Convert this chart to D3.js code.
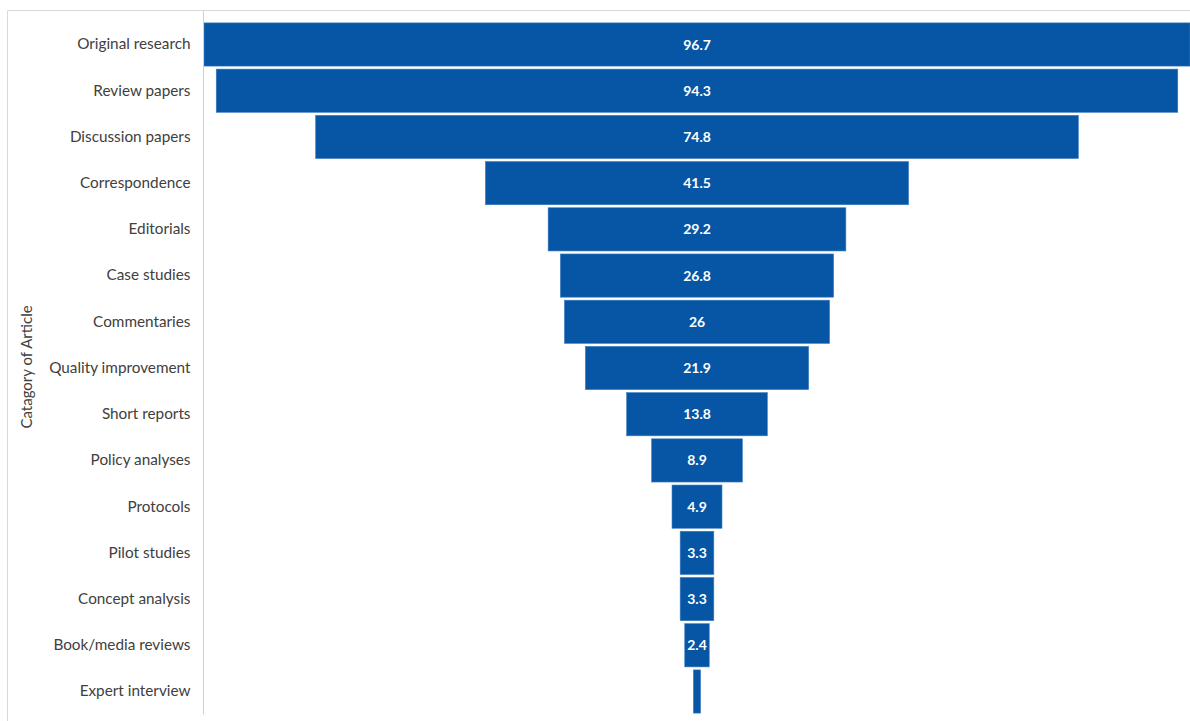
<!DOCTYPE html>
<html><head><meta charset="utf-8">
<script src="https://cdn.jsdelivr.net/npm/d3@7"></script>
<style>body{margin:0;background:#fff;}svg{display:block;}</style>
</head><body>
<svg id="c" width="1190" height="721"></svg>
<script>
const categories = ["Original research","Review papers","Discussion papers","Correspondence","Editorials","Case studies","Commentaries","Quality improvement","Short reports","Policy analyses","Protocols","Pilot studies","Concept analysis","Book/media reviews","Expert interview"];
const values = [96.7,94.3,74.8,41.5,29.2,26.8,26,21.9,13.8,8.9,4.9,3.3,3.3,2.4,0.7];
const labels = ["96.7","94.3","74.8","41.5","29.2","26.8","26","21.9","13.8","8.9","4.9","3.3","3.3","2.4",""];
const axisTitle = "Catagory of Article";

(function(){
const svg = d3.select("#c");
const W = 1190, H = 721;
const pL = 204, pR = 1190, pT = 21.5, pB = 714.5;
const cx = (pL + pR) / 2;

svg.append("path").attr("d", `M7.5,${H} V10.5 H${W}`).attr("fill","none").attr("stroke","#d9d9d9").attr("stroke-width",1);

const y = d3.scaleBand().domain(categories).range([pT, pB]).paddingInner(0.065).paddingOuter(0.03);
const w = d3.scaleLinear().domain([0, d3.max(values)]).range([0, pR - pL]);

const data = categories.map((c,i)=>({c, v: values[i], l: labels[i]}));

svg.selectAll("rect.bar").data(data).join("rect").attr("class","bar")
  .attr("x", d => cx - w(d.v)/2).attr("width", d => w(d.v))
  .attr("y", d => y(d.c)).attr("height", y.bandwidth())
  .attr("fill", "#0756a5").attr("stroke","#3d7cc0").attr("stroke-width",0.6);

svg.selectAll("text.val").data(data).join("text").attr("class","val")
  .attr("x", cx).attr("y", d => y(d.c) + y.bandwidth()/2)
  .attr("dy","0.36em").attr("text-anchor","middle")
  .attr("fill","#fff").attr("font-family","Lato, 'Open Sans', sans-serif")
  .attr("font-size","14px").attr("font-weight","bold").text(d => d.l);

const ax = svg.append("g").attr("transform", `translate(${pL - 0.5},0)`)
  .call(d3.axisLeft(y).tickSize(0).tickPadding(13));
ax.select(".domain").attr("stroke","#d0d0d0").attr("d", `M0,10.5V${pB}`);
ax.selectAll("text").attr("fill","#404040").attr("font-family","Lato, 'Open Sans', sans-serif").attr("font-size","15.3px");

svg.append("text").attr("transform", `translate(32,367) rotate(-90)`)
  .attr("text-anchor","middle").attr("fill","#404040")
  .attr("font-family","Lato, 'Open Sans', sans-serif").attr("font-size","15px").text(axisTitle);
})();
</script>
</body></html>
